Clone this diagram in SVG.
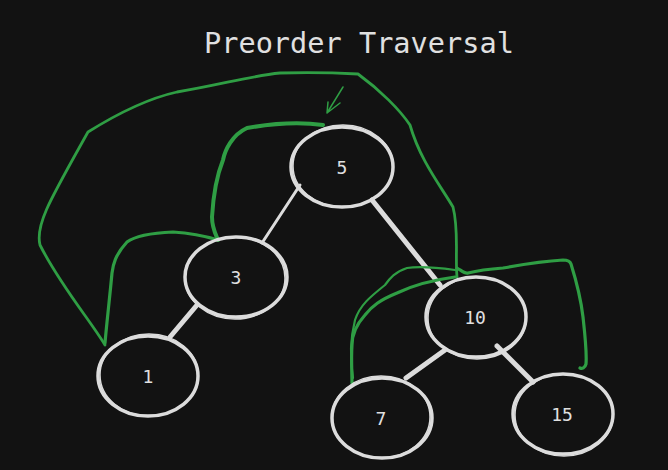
<svg xmlns="http://www.w3.org/2000/svg" width="668" height="470" viewBox="0 0 668 470">
<style>
.bg{fill:#121212}
.node ellipse{fill:none;stroke:#dcdcdc;stroke-width:3.5}
.node .sk{stroke-width:1.5}
.node text{font-family:"DejaVu Sans Mono","Liberation Mono",monospace;font-size:18px;fill:#e0e0e0;text-anchor:middle;dominant-baseline:central}
.edge{stroke:#dcdcdc;stroke-linecap:round;fill:none}
.g{fill:none;stroke:#2f9e44;stroke-linecap:round;stroke-linejoin:round}
.title{font-family:"DejaVu Sans Mono","Liberation Mono",monospace;font-size:28.6px;fill:#e0e0e0}
</style>
<rect class="bg" x="0" y="0" width="668" height="470"/>
<text class="title" x="204" y="53">Preorder Traversal</text>
<g id="connectors">
<line class="edge" x1="300" y1="185" x2="262" y2="243" stroke-width="3"/>
<line class="edge" x1="372" y1="200" x2="440" y2="285" stroke-width="5"/>
<line class="edge" x1="197" y1="305" x2="170" y2="337" stroke-width="5"/>
<line class="edge" x1="445" y1="350" x2="406" y2="378" stroke-width="5"/>
<line class="edge" x1="497" y1="346" x2="533" y2="382" stroke-width="5"/>
</g>
<g id="traversal">
<path class="g" stroke-width="2.8" d="M105,345 C90,320 60,285 40,245 C35,225 50,200 88,132 C120,112 150,98 177,92 C220,85 250,76 280,73 C310,72 340,73 358,74 C380,90 400,110 410,125 C420,160 440,185 453,207 C459,230 455,255 457,277"/>
<path class="g" stroke-width="4" d="M323,125 C300,122 270,124 247,128 C232,135 225,150 223,160 C215,180 213,200 212,217 C212,228 216,235 218,240"/>
<path class="g" stroke-width="3.2" d="M218,240 C205,236 190,233 173,232 C150,233 135,236 127,242 C115,255 113,265 112,273 C110,295 107,320 105,343"/>
<path class="g" stroke-width="1.5" d="M343,87 L327,113 M328,102 L327,113 L340,103"/>
<path class="g" stroke-width="3.2" d="M455,277 C440,279 420,282 397,293 C380,300 372,306 365,315 C356,325 352,335 352,345 C351,360 352,372 352,383"/>
<path class="g" stroke-width="2.2" d="M455,270 C440,268 420,266 407,268 C395,272 390,278 385,285 C370,297 360,305 355,320 C350,340 350,360 353,378"/>
<path class="g" stroke-width="3.2" d="M457,268 C462,271 465,274 468,273 C480,270 490,269 503,268 C525,264 545,261 563,260 C568,260 570,261 571,264 C576,280 581,300 583,317 C585,335 587,352 586,364 C585,368 582,369 580,368"/>
</g>
<g id="n5" class="node"><ellipse cx="342" cy="167" rx="51" ry="40"/><ellipse class="sk" cx="343" cy="166" rx="50" ry="41"/><text x="342" y="167">5</text></g>
<g id="n3" class="node"><ellipse cx="236" cy="277" rx="51" ry="40"/><ellipse class="sk" cx="235" cy="278" rx="50" ry="41"/><text x="236" y="277">3</text></g>
<g id="n1" class="node"><ellipse cx="148" cy="376" rx="50" ry="40"/><ellipse class="sk" cx="149" cy="375" rx="49" ry="41"/><text x="148" y="376">1</text></g>
<g id="n10" class="node"><ellipse cx="476" cy="317" rx="50" ry="40"/><ellipse class="sk" cx="477" cy="318" rx="49" ry="41"/><text x="475" y="317">10</text></g>
<g id="n7" class="node"><ellipse cx="382" cy="418" rx="50" ry="40"/><ellipse class="sk" cx="381" cy="417" rx="49" ry="41"/><text x="381" y="418">7</text></g>
<g id="n15" class="node"><ellipse cx="563" cy="414" rx="50" ry="40"/><ellipse class="sk" cx="564" cy="415" rx="49" ry="41"/><text x="562" y="414">15</text></g>
</svg>
